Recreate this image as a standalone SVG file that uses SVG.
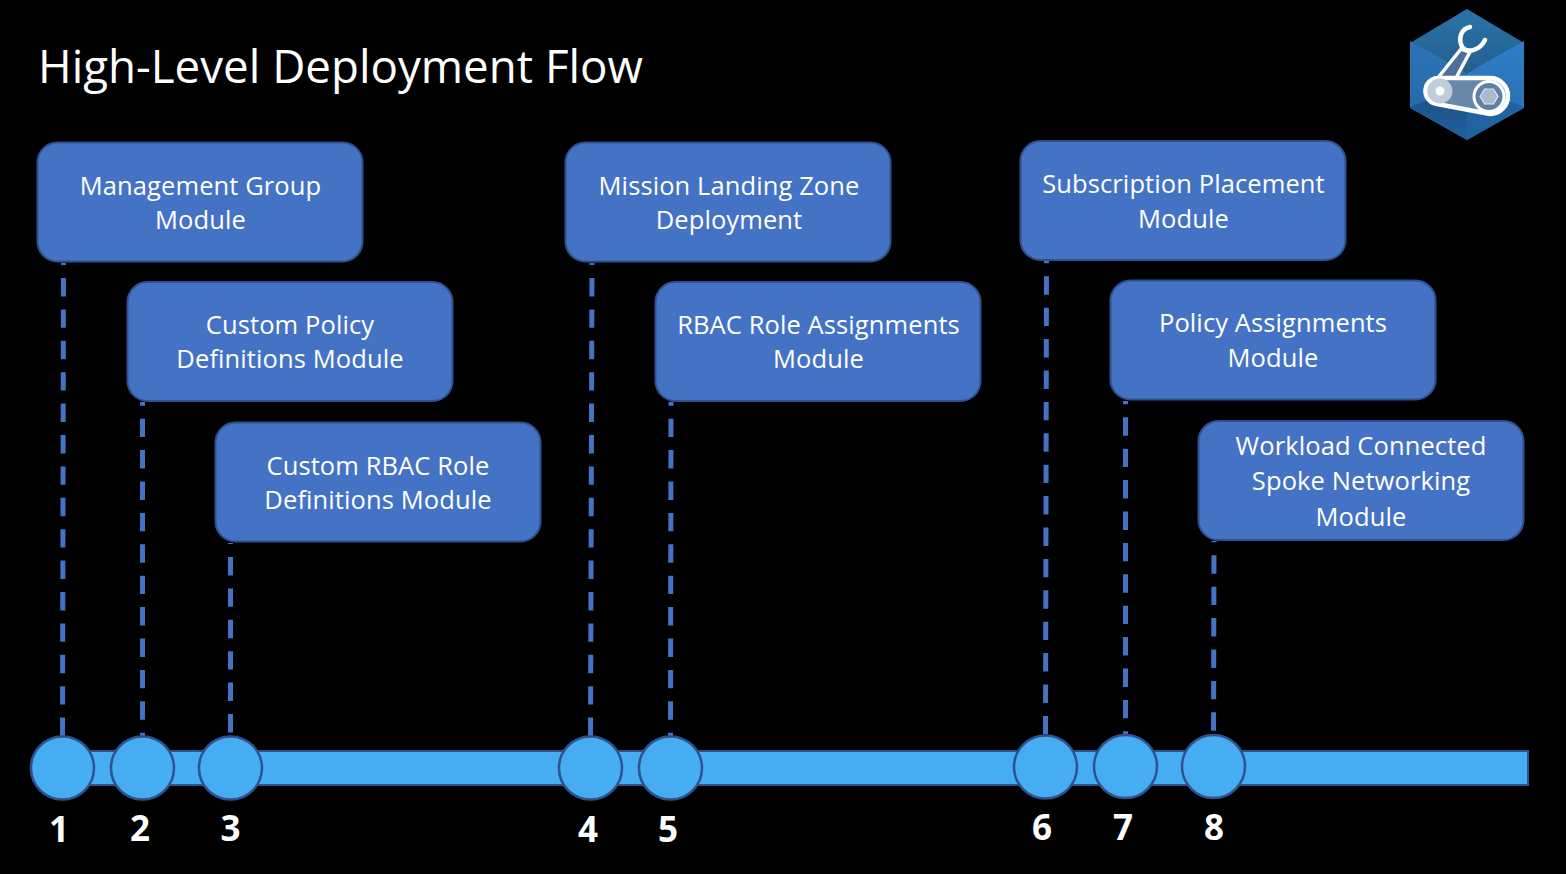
<svg xmlns="http://www.w3.org/2000/svg" width="1566" height="874" viewBox="0 0 1566 874">
<defs>
<linearGradient id="gTop" x1="0" y1="0" x2="0" y2="1"><stop offset="0" stop-color="#2a74a8"/><stop offset="1" stop-color="#235f8f"/></linearGradient>
<linearGradient id="gLeft" x1="0" y1="0" x2="0" y2="1"><stop offset="0" stop-color="#2c74b6"/><stop offset="1" stop-color="#2566a6"/></linearGradient>
<linearGradient id="gRight" x1="0" y1="0" x2="0" y2="1"><stop offset="0" stop-color="#2f7fc8"/><stop offset="1" stop-color="#266aae"/></linearGradient>
<linearGradient id="gBL" x1="0" y1="0" x2="0" y2="1"><stop offset="0" stop-color="#1f4f80"/><stop offset="1" stop-color="#1f5f9e"/></linearGradient>
</defs>
<style>
.box{fill:#4472c4;stroke:#2f528f;stroke-width:2}
.lbl{font-family:"Open Sans","Noto Sans",sans-serif;font-size:25.5px;letter-spacing:.1px;fill:#fff;text-anchor:middle}
.dot{fill:#47adf3;stroke:#2f528f;stroke-width:2.5}
.num{font-family:"Open Sans","Noto Sans",sans-serif;font-size:35px;font-weight:700;fill:#fff;text-anchor:middle}
.dash{stroke:#4472c4;stroke-width:5;stroke-dasharray:18.4 13;fill:none}
</style>
<rect width="1566" height="874" fill="#000"/>
<text id="title" x="38" y="83" font-family="Open Sans,Noto Sans,sans-serif" font-size="45.700" fill="#fff">High-Level Deployment Flow</text>
<g id="icon">
<polygon points="1467,9 1524,43 1467,73 1410,43" fill="url(#gTop)"/>
<polygon points="1410,41 1467,73 1467,140 1410,108" fill="url(#gLeft)"/>
<polygon points="1524,41 1467,73 1467,140 1524,108" fill="url(#gRight)"/>
<polygon points="1410,107 1467,85 1467,140" fill="url(#gBL)"/>
<polygon points="1524,107 1467,85 1467,140" fill="#2261a2"/>
<polygon points="1461,49 1470,52 1456,78 1437,79" fill="#4c6f9c" stroke="#fff" stroke-width="3.500" stroke-linejoin="round"/>
<path d="M1470,27C1461,29 1458,38 1462,47C1468,54 1480,50 1485,40" fill="none" stroke="#fff" stroke-width="4.500" stroke-linecap="round"/>
<path d="M1440,78H1490A18,18 0 0 1 1490,114L1437,104A13,13 0 0 1 1440,78Z" fill="#6787ab" stroke="#fff" stroke-width="4.500" stroke-linejoin="round"/>
<circle cx="1440" cy="91" r="12.500" fill="#c0cbdb"/>
<circle cx="1440" cy="91" r="4.500" fill="#fff"/>
<circle cx="1489" cy="96.500" r="15" fill="#5f7fa6" stroke="#fff" stroke-width="3"/>
<polygon points="1480,96.500 1484.500,89 1493.500,89 1498,96.500 1493.500,104 1484.500,104" fill="#a9b9ce" stroke="#dfe6ee" stroke-width="1.200"/>
</g>
<g id="timeline"><rect x="62" y="751" width="1466" height="34" fill="#47adf3" stroke="#2f528f" stroke-width="2"/></g>
<g id="connectors">
<path class="dash" stroke-dashoffset="16.400" d="M63.500,263L62.500,740"/>
<path class="dash" stroke-dashoffset="14.700" d="M142.500,402L142.500,740"/>
<path class="dash" stroke-dashoffset="17.400" d="M230.500,543L230.500,740"/>
<path class="dash" stroke-dashoffset="16.400" d="M592,263L590.500,740"/>
<path class="dash" stroke-dashoffset="14.700" d="M671,402L670.500,740"/>
<path class="dash" stroke-dashoffset="16.100" d="M1046.500,261L1045.500,740"/>
<path class="dash" stroke-dashoffset="15.100" d="M1125.500,401L1125.500,740"/>
<path class="dash" stroke-dashoffset="17.100" d="M1214,541L1213.500,740"/>
</g>
<g id="n1"><rect class="box" x="37.500" y="142.500" width="325" height="119" rx="20"/><text class="lbl" x="200.500" y="195">Management Group</text><text class="lbl" x="200.500" y="229">Module</text></g>
<g id="n2"><rect class="box" x="127.500" y="282" width="325" height="119" rx="20"/><text class="lbl" x="290" y="334">Custom Policy</text><text class="lbl" x="290" y="368">Definitions Module</text></g>
<g id="n3"><rect class="box" x="215.500" y="422.500" width="325" height="119" rx="20"/><text class="lbl" x="378" y="475">Custom RBAC Role</text><text class="lbl" x="378" y="509">Definitions Module</text></g>
<g id="n4"><rect class="box" x="565.500" y="142.500" width="325" height="119" rx="20"/><text class="lbl" x="729" y="195">Mission Landing Zone</text><text class="lbl" x="729" y="229">Deployment</text></g>
<g id="n5"><rect class="box" x="655.500" y="282" width="325" height="119" rx="20"/><text class="lbl" x="818.500" y="334">RBAC Role Assignments</text><text class="lbl" x="818.500" y="368">Module</text></g>
<g id="n6"><rect class="box" x="1020.500" y="141" width="325" height="119" rx="20"/><text class="lbl" x="1183.500" y="193">Subscription Placement</text><text class="lbl" x="1183.500" y="228">Module</text></g>
<g id="n7"><rect class="box" x="1110.500" y="280.500" width="325" height="119" rx="20"/><text class="lbl" x="1273" y="332">Policy Assignments</text><text class="lbl" x="1273" y="367">Module</text></g>
<g id="n8"><rect class="box" x="1198.500" y="421" width="325" height="119" rx="20"/><text class="lbl" x="1361" y="455">Workload Connected</text><text class="lbl" x="1361" y="490">Spoke Networking</text><text class="lbl" x="1361" y="526">Module</text></g>
<g id="p1"><circle class="dot" cx="62.500" cy="768" r="31.500"/><text class="num" x="59" y="842">1</text></g>
<g id="p2"><circle class="dot" cx="142.500" cy="768" r="31.500"/><text class="num" x="140" y="841">2</text></g>
<g id="p3"><circle class="dot" cx="230.500" cy="768" r="31.500"/><text class="num" x="230.500" y="841">3</text></g>
<g id="p4"><circle class="dot" cx="590.500" cy="768" r="31.500"/><text class="num" x="588" y="842">4</text></g>
<g id="p5"><circle class="dot" cx="670.500" cy="768" r="31.500"/><text class="num" x="668" y="841.500">5</text></g>
<g id="p6"><circle class="dot" cx="1045.500" cy="767" r="31.500"/><text class="num" x="1042" y="840">6</text></g>
<g id="p7"><circle class="dot" cx="1125.500" cy="766.500" r="31.500"/><text class="num" x="1123" y="840">7</text></g>
<g id="p8"><circle class="dot" cx="1213.500" cy="766.500" r="31.500"/><text class="num" x="1214" y="839.500">8</text></g>
</svg>
